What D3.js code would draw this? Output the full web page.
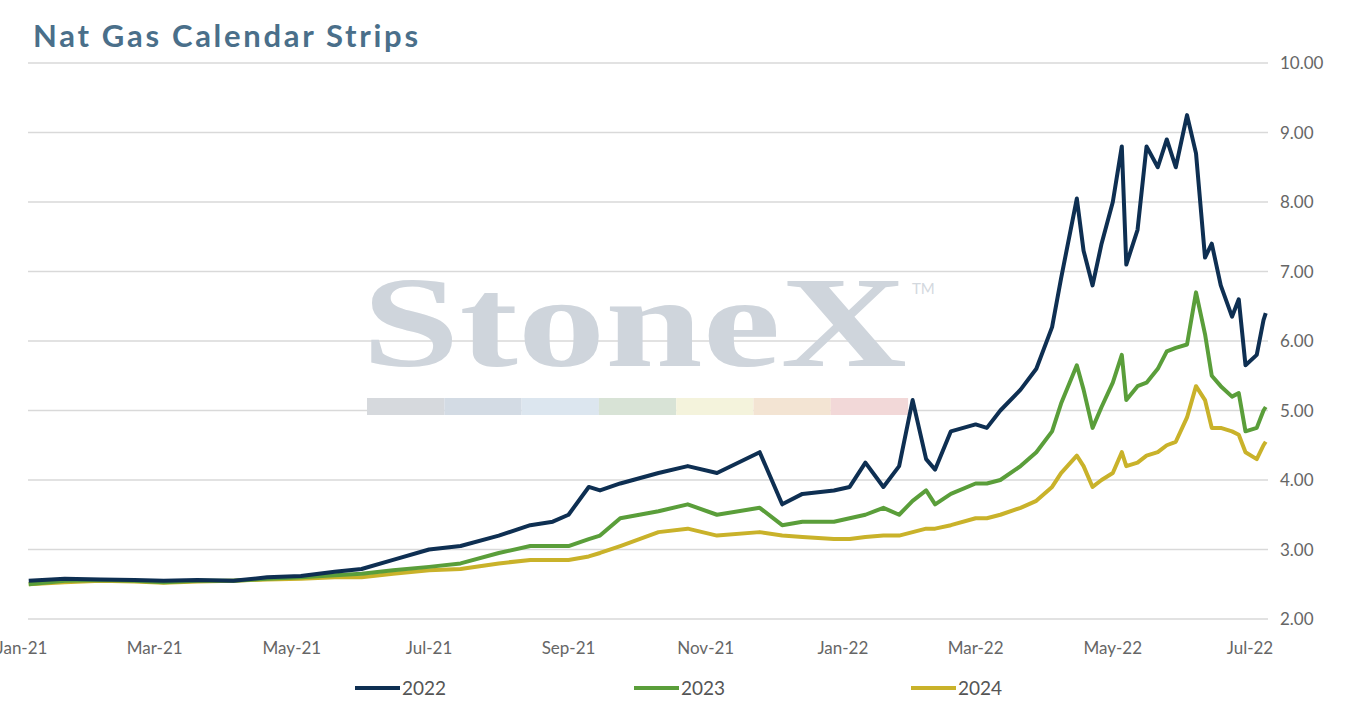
<!DOCTYPE html>
<html><head><meta charset="utf-8">
<script src="https://cdn.jsdelivr.net/npm/d3@7"></script>
<style>body{margin:0;background:#fff;font-family:Lato,"Open Sans",sans-serif;}</style>
</head><body><svg id="c" width="1354" height="709"></svg>
<script>
const dates = ['2021-01-04','2021-01-20','2021-02-05','2021-02-20','2021-03-05','2021-03-20','2021-04-05','2021-04-20','2021-05-05','2021-05-20','2021-06-01','2021-06-15','2021-07-01','2021-07-15','2021-08-01','2021-08-15','2021-08-25','2021-09-01','2021-09-10','2021-09-15','2021-09-24','2021-10-11','2021-10-24','2021-11-06','2021-11-25','2021-12-05','2021-12-14','2021-12-28',
'2022-01-04','2022-01-11','2022-01-19','2022-01-26','2022-02-01','2022-02-07','2022-02-11','2022-02-18','2022-03-01','2022-03-06','2022-03-12','2022-03-21','2022-03-28','2022-04-04','2022-04-08','2022-04-15','2022-04-18','2022-04-22','2022-04-26','2022-05-01','2022-05-05','2022-05-07','2022-05-12','2022-05-16','2022-05-21','2022-05-25','2022-05-29','2022-06-03','2022-06-07','2022-06-11','2022-06-14','2022-06-18','2022-06-23','2022-06-26','2022-06-29','2022-07-04','2022-07-07','2022-07-08'];
const cal2022 = [2.55,2.58,2.57,2.56,2.55,2.56,2.55,2.6,2.62,2.68,2.72,2.85,3.0,3.05,3.2,3.35,3.4,3.5,3.9,3.85,3.95,4.1,4.2,4.1,4.4,3.65,3.8,3.85,
3.9,4.25,3.9,4.2,5.15,4.3,4.15,4.7,4.8,4.75,5.0,5.3,5.6,6.2,6.9,8.05,7.3,6.8,7.4,8.0,8.8,7.1,7.6,8.8,8.5,8.9,8.5,9.25,8.7,7.2,7.4,6.8,6.35,6.6,5.65,5.8,6.3,6.4];
const cal2023 = [2.5,2.55,2.56,2.55,2.53,2.55,2.55,2.58,2.6,2.63,2.65,2.7,2.75,2.8,2.95,3.05,3.05,3.05,3.15,3.2,3.45,3.55,3.65,3.5,3.6,3.35,3.4,3.4,
3.45,3.5,3.6,3.5,3.7,3.85,3.65,3.8,3.95,3.95,4.0,4.2,4.4,4.7,5.1,5.65,5.3,4.75,5.05,5.4,5.8,5.15,5.35,5.4,5.6,5.85,5.9,5.95,6.7,6.1,5.5,5.35,5.2,5.25,4.7,4.75,5.0,5.05];
const cal2024 = [2.5,2.53,2.55,2.54,2.52,2.54,2.55,2.57,2.58,2.6,2.6,2.65,2.7,2.72,2.8,2.85,2.85,2.85,2.9,2.95,3.05,3.25,3.3,3.2,3.25,3.2,3.18,3.15,
3.15,3.18,3.2,3.2,3.25,3.3,3.3,3.35,3.45,3.45,3.5,3.6,3.7,3.9,4.1,4.35,4.2,3.9,4.0,4.1,4.4,4.2,4.25,4.35,4.4,4.5,4.55,4.9,5.35,5.15,4.75,4.75,4.7,4.65,4.4,4.3,4.5,4.55];
const series = [
  {name:'2022', values:cal2022, color:'#0e2f52'},
  {name:'2023', values:cal2023, color:'#5a9e3a'},
  {name:'2024', values:cal2024, color:'#c9b22a'}
];
const yTicks = [2,3,4,5,6,7,8,9,10];
const xTicks = ['2021-01-01','2021-03-01','2021-05-01','2021-07-01','2021-09-01','2021-11-01','2022-01-01','2022-03-01','2022-05-01','2022-07-01'];

const parse = d3.timeParse('%Y-%m-%d');
const svg = d3.select('#c');
const x = d3.scaleTime().domain([parse('2021-01-01'), parse('2022-07-01')]).range([22, 1250]);
const y = d3.scaleLinear().domain([2, 10]).range([619, 63]);

svg.append('text').attr('x', 33).attr('y', 47).text('Nat Gas Calendar Strips')
  .attr('font-size', 31).attr('font-weight', 700).attr('fill', '#4a6f8a')
  .attr('textLength', 385).attr('lengthAdjust', 'spacing');

// grid
svg.append('g').selectAll('line').data(yTicks).join('line')
  .attr('x1', 28).attr('x2', 1268).attr('y1', d => y(d)).attr('y2', d => y(d))
  .attr('stroke', '#d9d9d9').attr('stroke-width', 1.5);
svg.append('g').selectAll('text').data(yTicks).join('text')
  .attr('x', 1280).attr('y', d => y(d) + 6).text(d => d.toFixed(2))
  .attr('font-size', 17).attr('fill', '#666');
svg.append('g').selectAll('text').data(xTicks).join('text')
  .attr('x', d => x(parse(d))).attr('y', 654).attr('text-anchor', 'middle')
  .text(d => d3.timeFormat('%b-%y')(parse(d))).attr('font-size', 17).attr('fill', '#666');

// watermark
const wm = svg.append('g');
wm.append('text').attr('x', 362).attr('y', 366).text('StoneX')
  .attr('font-family', '"Liberation Serif","DejaVu Serif",serif').attr('font-size', 130).attr('font-weight', 700)
  .attr('fill', '#cfd5dc').attr('textLength', 545).attr('lengthAdjust', 'spacingAndGlyphs');
wm.append('text').attr('x', 912).attr('y', 294).text('TM').attr('font-size', 15).attr('fill', '#d3d8de');
const wmColors = ['#d6d9dd','#d3dbe4','#dce6ef','#d8e3d6','#f4f3dc','#f3e4d3','#f2d8d8'];
wm.selectAll('rect').data(wmColors).join('rect')
  .attr('x', (d, i) => 367 + i * 77.3).attr('y', 398).attr('width', 77.3).attr('height', 17).attr('fill', d => d);

const line = d3.line().x((d, i) => x(parse(dates[i]))).y(d => y(d)).curve(d3.curveLinear);
svg.append('g').selectAll('path').data(series.slice().reverse()).join('path')
  .attr('d', s => line(s.values)).attr('fill', 'none').attr('stroke', s => s.color)
  .attr('stroke-width', 4).attr('stroke-linejoin', 'round');

const lg = svg.append('g').selectAll('g').data(series).join('g')
  .attr('transform', (d, i) => `translate(${[355, 634, 911][i]},688)`);
lg.append('line').attr('x1', 0).attr('x2', 45).attr('stroke', d => d.color).attr('stroke-width', 4);
lg.append('text').attr('x', 47).attr('y', 7).text(d => d.name).attr('font-size', 19).attr('fill', '#555');
</script></body></html>
